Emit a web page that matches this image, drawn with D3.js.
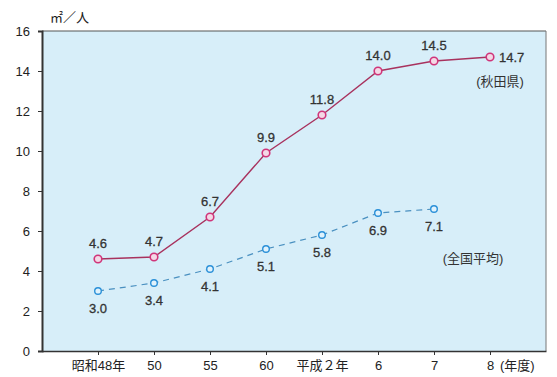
<!DOCTYPE html>
<html><head><meta charset="utf-8">
<script src="https://cdn.jsdelivr.net/npm/d3@7"></script>
<style>body{margin:0;background:#fff;}svg{display:block;}text{font-family:"Liberation Sans","DejaVu Sans","Noto Sans CJK JP",sans-serif;}</style>
</head><body><svg id="c" width="557" height="377"></svg>
<script>
const categories = ["昭和48年","50","55","60","平成２年","6","7","8"];
const akita = [4.6,4.7,6.7,9.9,11.8,14.0,14.5,14.7];
const national = [3.0,3.4,4.1,5.1,5.8,6.9,7.1,null];
const yTicks = [0,2,4,6,8,10,12,14,16];

const svg = d3.select("#c");
const L=42,R=546,T=31,B=351;
const x = d3.scalePoint().domain(categories).range([L,R]).padding(1);
const y = d3.scaleLinear().domain([0,16]).range([B,T]);

svg.append("rect").attr("x",L).attr("y",T).attr("width",R-L).attr("height",B-T).attr("fill","#d7eef9");
svg.append("line").attr("x1",L).attr("x2",R).attr("y1",T).attr("y2",T).attr("stroke","#555").attr("stroke-width",1);
svg.append("line").attr("x1",R).attr("x2",R).attr("y1",T).attr("y2",B).attr("stroke","#777").attr("stroke-width",1);

const yAxis = d3.axisLeft(y).tickValues(yTicks).tickSize(4).tickPadding(8);
const gy = svg.append("g").attr("transform",`translate(${L},0)`).call(yAxis);
gy.select(".domain").attr("stroke","#333").attr("stroke-width",2);
gy.selectAll(".tick line").attr("stroke","#333");
gy.selectAll(".tick text").attr("font-size",13).attr("fill","#222");

const xAxis = d3.axisBottom(x).tickSize(4).tickPadding(6).tickSizeOuter(0);
const gx = svg.append("g").attr("transform",`translate(0,${B})`).call(xAxis);
gx.select(".domain").attr("stroke","#333").attr("stroke-width",1.5);
gx.selectAll(".tick line").attr("stroke","#333");
gx.selectAll(".tick text").attr("font-size",13).attr("fill","#222");
svg.append("text").attr("x",x("8")+10).attr("y",B+19).attr("font-size",13).attr("fill","#222").text("(年度)");

svg.append("text").attr("x",50).attr("y",22).attr("font-size",13).attr("fill","#222").text("㎡／人");

const lineA = d3.line().x((d,i)=>x(categories[i])).y(d=>y(d));
svg.append("path").attr("d",lineA(akita)).attr("fill","none").attr("stroke","#a8325e").attr("stroke-width",1.4);
const natData = national.map((v,i)=>({c:categories[i],v})).filter(d=>d.v!=null);
const lineN = d3.line().x(d=>x(d.c)).y(d=>y(d.v));
svg.append("path").attr("d",lineN(natData)).attr("fill","none").attr("stroke","#4a90c0").attr("stroke-width",1.2).attr("stroke-dasharray","6,5");

svg.selectAll(".pa").data(akita).enter().append("circle")
  .attr("cx",(d,i)=>x(categories[i])).attr("cy",d=>y(d)).attr("r",3.8)
  .attr("fill","#f4d8e6").attr("stroke","#d0357a").attr("stroke-width",1.6);
svg.selectAll(".pn").data(natData).enter().append("circle")
  .attr("cx",d=>x(d.c)).attr("cy",d=>y(d.v)).attr("r",3.3)
  .attr("fill","#e0f2fc").attr("stroke","#2a90d8").attr("stroke-width",1.4);

svg.selectAll(".la").data(akita).enter().append("text")
  .attr("x",(d,i)=> i===7 ? x(categories[i])+9 : x(categories[i]))
  .attr("y",(d,i)=> i===7 ? y(d)+5 : y(d)-11)
  .attr("text-anchor",(d,i)=> i===7 ? "start":"middle")
  .attr("font-size",13).attr("fill","#333").attr("stroke","#333").attr("stroke-width",0.3)
  .text(d=>d.toFixed(1));
svg.selectAll(".ln").data(natData).enter().append("text")
  .attr("x",d=>x(d.c)).attr("y",d=>y(d.v)+22)
  .attr("text-anchor","middle")
  .attr("font-size",13).attr("fill","#333").attr("stroke","#333").attr("stroke-width",0.3)
  .text(d=>d.v.toFixed(1));

svg.append("text").attr("x",500).attr("y",86).attr("text-anchor","middle").attr("font-size",13).attr("fill","#333").text("(秋田県)");
svg.append("text").attr("x",473).attr("y",263).attr("text-anchor","middle").attr("font-size",13).attr("fill","#333").text("(全国平均)");
</script></body></html>
